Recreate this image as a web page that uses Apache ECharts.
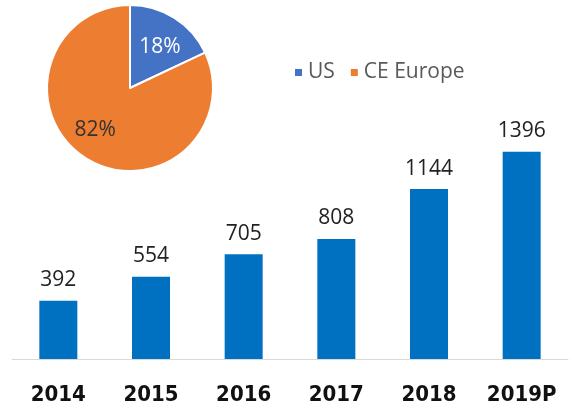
<!DOCTYPE html>
<html>
<head>
<meta charset="utf-8">
<script src="https://cdn.jsdelivr.net/npm/echarts@6/dist/echarts.min.js"></script>
<style>
  html, body { margin: 0; padding: 0; background: #fff; }
  #chart { width: 572px; height: 409px; }
</style>
</head>
<body>
<div id="chart"></div>
<script>
// bar data
var years = ['2014', '2015', '2016', '2017', '2018', '2019P'];
var totals = [392, 554, 705, 808, 1144, 1396];

// pie data
var regions = ['US', 'CE Europe'];
var shares = [18, 82];
var pieColors = ['#4472C4', '#ED7D31'];
var pieLabelColors = ['#fff', '#333'];
var pieLabelShift = [[6, -3], [-11, 4]];

var chart = echarts.init(document.getElementById('chart'));

chart.setOption({
  animation: false,
  legend: {
    data: regions,
    left: 288,
    top: 57,
    itemWidth: 9,
    itemHeight: 9,
    itemGap: 14,
    icon: 'rect',
    textStyle: { color: '#595959', fontSize: 21, fontFamily: 'Open Sans' }
  },
  grid: { left: 12, right: 4, top: 10, bottom: 50 },
  xAxis: {
    type: 'category',
    data: years,
    axisTick: { show: false },
    axisLine: { lineStyle: { color: '#d9d9d9', width: 1 } },
    axisLabel: {
      interval: 0,
      color: '#111',
      fontSize: 22,
      fontWeight: 'bold',
      fontFamily: 'DejaVu Sans Condensed',
      margin: 25
    }
  },
  yAxis: {
    type: 'value',
    min: 0,
    max: 2350,
    show: false,
    splitLine: { show: false }
  },
  series: [
    {
      type: 'bar',
      data: totals,
      barWidth: 38,
      itemStyle: { color: '#0070C0' },
      label: {
        show: true,
        position: 'top',
        distance: 10,
        color: '#222',
        fontSize: 21,
        fontFamily: 'Open Sans'
      }
    },
    {
      type: 'pie',
      center: [130, 88],
      radius: 83,
      startAngle: 90,
      clockwise: true,
      data: regions.map(function (r, i) {
        return {
          name: r,
          value: shares[i],
          itemStyle: { color: pieColors[i] },
          label: { color: pieLabelColors[i], offset: pieLabelShift[i] }
        };
      }),
      itemStyle: { borderColor: '#fff', borderWidth: 2 },
      label: {
        show: true,
        position: 'inside',
        formatter: '{c}%',
        fontSize: 21,
        fontFamily: 'Open Sans'
      },
      labelLine: { show: false }
    }
  ]
});
</script>
</body>
</html>
